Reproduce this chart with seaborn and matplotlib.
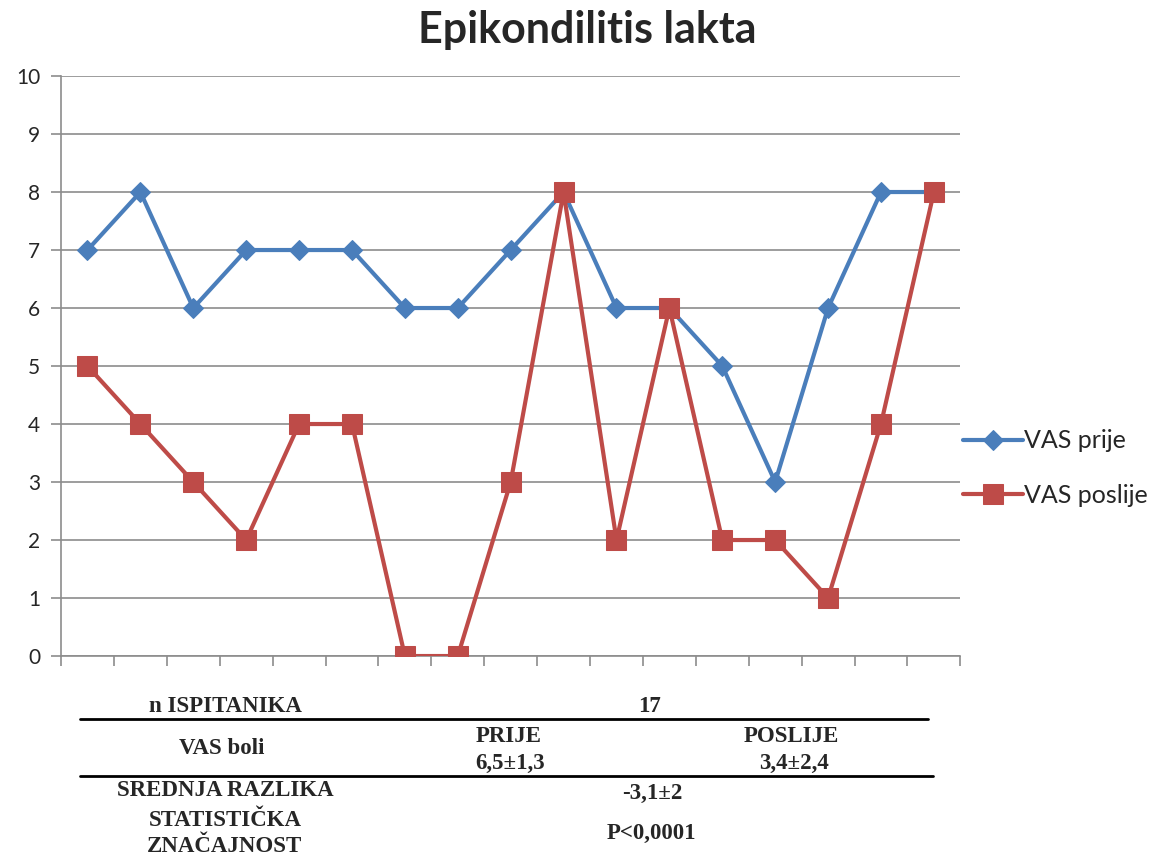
import numpy as np
import pandas as pd
import matplotlib
matplotlib.use('Agg')
import matplotlib.pyplot as plt
import seaborn as sns

# Data
ispitanik = list(range(1, 18))
vas_prije = [7, 8, 6, 7, 7, 7, 6, 6, 7, 8, 6, 6, 5, 3, 6, 8, 8]
vas_poslije = [5, 4, 3, 2, 4, 4, 0, 0, 3, 8, 2, 6, 2, 2, 1, 4, 8]
y_ticks = list(range(0, 11))

df = pd.DataFrame({'ispitanik': ispitanik, 'VAS prije': vas_prije, 'VAS poslije': vas_poslije})

sns.set_style('white')
plt.rcParams['font.family'] = ['Lato', 'DejaVu Sans']

fig = plt.figure(figsize=(11.74, 8.58), dpi=100)
ax = fig.add_axes([0.052, 0.2354, 0.766, 0.676])

blue = '#4A7EBB'
red = '#BE4B48'

sns.lineplot(data=df, x='ispitanik', y='VAS prije', ax=ax, color=blue, lw=3,
             marker='D', markersize=10, markeredgecolor=blue, label='VAS prije', zorder=3)
sns.lineplot(data=df, x='ispitanik', y='VAS poslije', ax=ax, color=red, lw=3,
             marker='s', markersize=14, markeredgecolor=red, label='VAS poslije', zorder=4)

ax.set_xlim(0.5, 17.5)
ax.set_ylim(0, 10)
ax.set_yticks(y_ticks)
ax.set_xticks(np.arange(0.5, 18.5, 1))
ax.set_xticklabels([])
ax.yaxis.grid(True, color='#8c8c8c', lw=1.2)
ax.set_axisbelow(True)
ax.tick_params(axis='both', direction='out', length=7, color='#8c8c8c', width=1.2,
               labelsize=15, left=True, bottom=True, pad=8)
for s in ['top', 'right']:
    ax.spines[s].set_visible(False)
for s in ['left', 'bottom']:
    ax.spines[s].set_color('#8c8c8c')
    ax.spines[s].set_linewidth(1.2)
ax.set_xlabel('')
ax.set_ylabel('')

ax.legend(loc='center left', bbox_to_anchor=(1.0, 0.324), frameon=False, fontsize=18,
          handlelength=2.4, labelspacing=1.25, borderaxespad=0.1, handletextpad=0.05,
          borderpad=0)

W, H = 1174, 858
# chart title is centred on the whole figure
fig.text(587 / W, 1 - 43 / H, 'Epikondilitis lakta', ha='center', va='baseline',
         fontsize=31, fontweight='bold')

# Summary table under the chart (positions in pixels)
def txt(x, y, s):
    fig.text(x / W, 1 - y / H, s, ha='center', va='center', fontsize=16.5,
             fontweight='bold', family='Liberation Serif')

txt(225, 707, 'n ISPITANIKA')
txt(649, 707, '17')
txt(222, 749, 'VAS boli')
txt(509, 737, 'PRIJE')
txt(510, 763, '6,5±1,3')
txt(791, 737, 'POSLIJE')
txt(794, 763, '3,4±2,4')
txt(225, 790, 'SREDNJA RAZLIKA')
txt(652, 793, '-3,1±2')
txt(225, 821, 'STATISTIČKA')
txt(224, 847, 'ZNAČAJNOST')
txt(651, 833, 'P<0,0001')

for y, x1 in [(719, 928), (776, 933)]:
    fig.add_artist(plt.Line2D([80 / W, x1 / W], [1 - y / H, 1 - y / H], color='black', lw=2))

fig.savefig('out.png', dpi=100)
